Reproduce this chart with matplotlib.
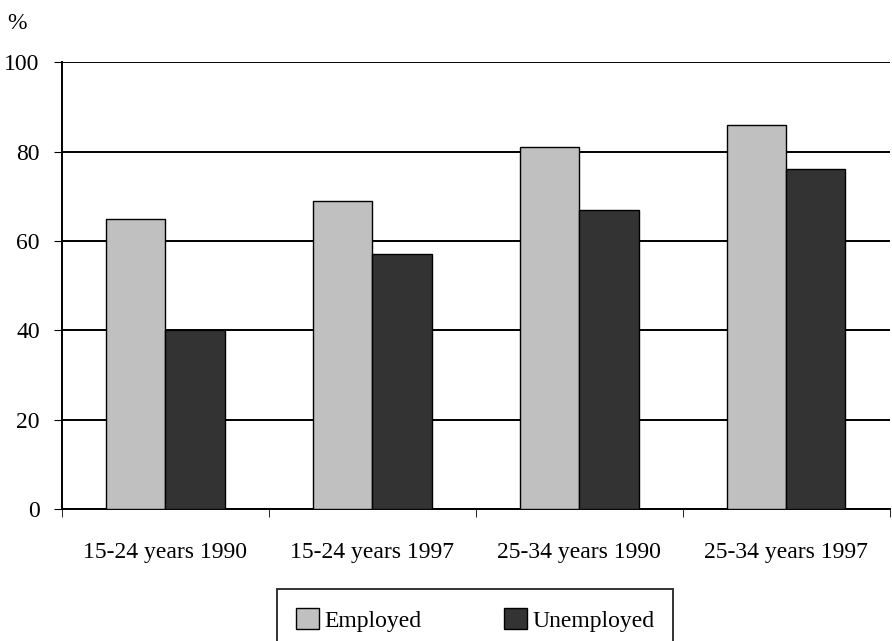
import matplotlib.pyplot as plt
import numpy as np

categories = ["15-24 years 1990", "15-24 years 1997", "25-34 years 1990", "25-34 years 1997"]
employed = [65, 69, 81, 86]
unemployed = [40, 57, 67, 76]

plt.rcParams['font.family'] = ['Liberation Serif', 'DejaVu Serif']
fs = 17

fig = plt.figure(figsize=(8.92, 6.41), dpi=100)
ax = fig.add_axes([0.0695, 0.206, 0.928, 0.697])

x = np.arange(len(categories))
w = 0.286
ax.bar(x - w / 2, employed, w, color="#c0c0c0", edgecolor="black", linewidth=1, label="Employed", zorder=3)
ax.bar(x + w / 2, unemployed, w, color="#333333", edgecolor="black", linewidth=1, label="Unemployed", zorder=3)

ax.set_xlim(-0.5, 3.5)
ax.set_ylim(0, 100)
ax.set_yticks(range(0, 101, 20))
ax.yaxis.grid(True, color="black", linewidth=1.4, zorder=0)
ax.set_xticks(x)
ax.set_xticklabels(categories, fontsize=fs)
ax.set_xticks(np.arange(-0.5, 4, 1), minor=True)
ax.tick_params(axis="x", which="major", length=0, pad=24)
ax.tick_params(axis="x", which="minor", length=6, direction="out")
ax.tick_params(axis="y", labelsize=fs, length=6, direction="out", pad=10)
for s in ["top", "right"]:
    ax.spines[s].set_visible(False)
ax.spines["left"].set_linewidth(1.4)
ax.spines["bottom"].set_linewidth(1.4)

fig.text(0.008, 0.955, "%", fontsize=fs)

fig.legend(loc="center", bbox_to_anchor=(0.5325, 0.033), ncol=2, fontsize=fs,
           frameon=True, fancybox=False, edgecolor="black", handlelength=1.0,
           handleheight=1.0, handletextpad=0.2, columnspacing=3.5, borderpad=0.8)
leg = fig.legends[0]
leg.get_frame().set_linewidth(1.4)

fig.savefig("out.png")
